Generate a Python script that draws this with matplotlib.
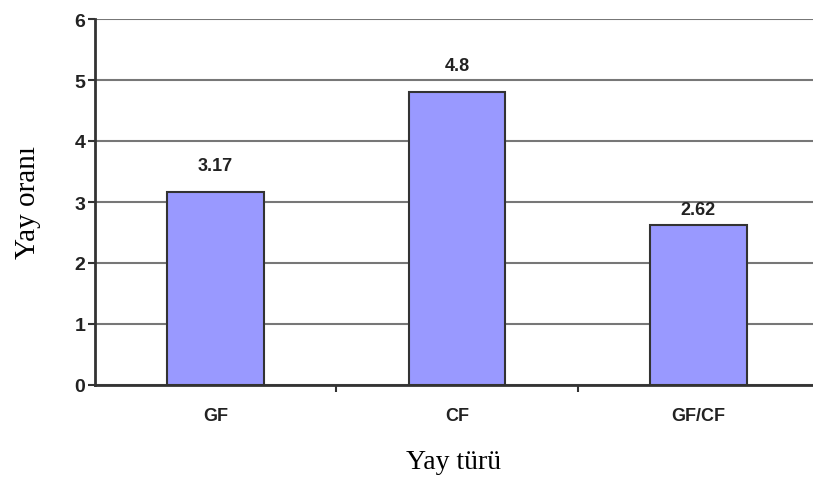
import numpy as np
import matplotlib.pyplot as plt

categories = ['GF', 'CF', 'GF/CF']
values = [3.17, 4.8, 2.62]
value_labels = ['3.17', '4.8', '2.62']
yticks = [0, 1, 2, 3, 4, 5, 6]

# label lift above each bar top, in points
label_lift = [13, 13, 5]

narrow = ['Liberation Sans Narrow', 'Liberation Sans', 'DejaVu Sans']
serif = ['Liberation Serif', 'DejaVu Serif']

fig = plt.figure(figsize=(8.13, 4.85), dpi=100)
ax = fig.add_axes([95 / 813, 1 - 386 / 485, 718 / 813, 366 / 485])

x = np.arange(len(categories))
ax.bar(x, values, width=0.4, color='#9999ff', edgecolor='#333333', linewidth=1.5, zorder=3)

for xi, v, lab, dy in zip(x, values, value_labels, label_lift):
    ax.annotate(lab, (xi, v), xytext=(0, dy), textcoords='offset points',
                ha='center', va='bottom', fontsize=13, fontweight='bold',
                family=narrow, color='#222222')

ax.set_xlim(-0.5, 2.475)
ax.set_ylim(0, 6)
ax.set_yticks(yticks)
ax.set_yticklabels([str(t) for t in yticks], family=narrow, fontsize=14, fontweight='bold', color='#222222')
ax.set_xticks([0.5, 1.5], minor=False)
ax.set_xticklabels([])
ax.set_xticks(x, minor=True)
ax.set_xticklabels(categories, minor=True, family=narrow, fontsize=13, fontweight='bold', color='#222222')
ax.tick_params(axis='x', which='major', direction='out', length=5, width=1.5, color='#333333')
ax.tick_params(axis='x', which='minor', length=0, pad=16)
ax.tick_params(axis='y', direction='out', length=5, width=1.5, color='#333333', pad=2)

ax.yaxis.grid(True, color='#777777', linewidth=1.5, zorder=0)
ax.set_axisbelow(True)
for s in ['top', 'right']:
    ax.spines[s].set_visible(False)
for s in ['left', 'bottom']:
    ax.spines[s].set_color('#333333')
    ax.spines[s].set_linewidth(2)

ax.set_ylabel('Yay oranı', family=serif, fontsize=21, labelpad=24)
ax.set_xlabel('Yay türü', family=serif, fontsize=20, labelpad=18)

fig.savefig('out.png', dpi=100)
